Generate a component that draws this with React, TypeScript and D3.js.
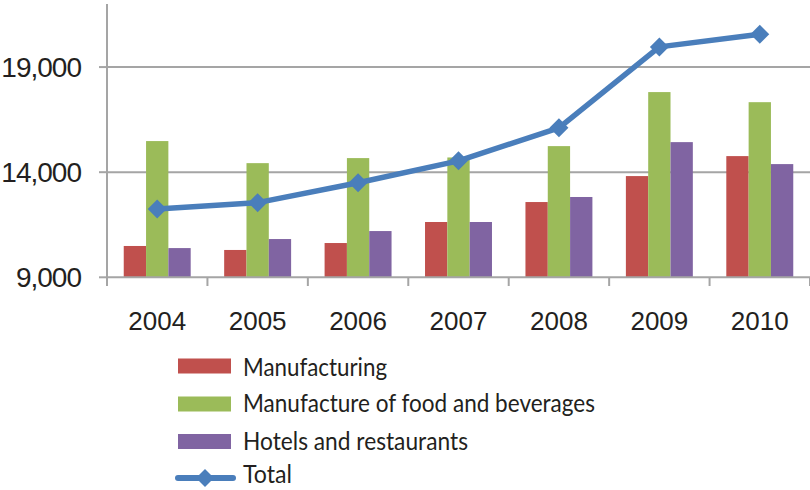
import React from "react";
import * as d3 from "d3";

const years = ["2004", "2005", "2006", "2007", "2008", "2009", "2010"];
const manufacturing = [10490, 10300, 10630, 11630, 12580, 13815, 14765];
const foodBeverages = [15480, 14430, 14670, 14700, 15240, 17810, 17330];
const hotelsRestaurants = [10390, 10820, 11200, 11630, 12820, 15430, 14385];
const total = [12250, 12550, 13500, 14540, 16110, 19960, 20565];
const yTicks = [9000, 14000, 19000];
const seriesNames = ["Manufacturing", "Manufacture of food and beverages", "Hotels and restaurants"];
const seriesColors = ["#C0504D", "#9BBB59", "#8064A2"];
const totalName = "Total";
const totalColor = "#4A7EBB";

const W = 810;
const H = 490;
const left = 107;
const right = 810;
const yTop = 4;
const yBottom = 277.3;

export default function App() {
  const x = d3.scaleBand<string>().domain(years).range([left, right]).paddingInner(0).paddingOuter(0);
  const bw = x.bandwidth();
  const groupPad = (bw * (1.5 / 4.5)) / 2;
  const inner = d3
    .scaleBand<number>()
    .domain([0, 1, 2])
    .range([groupPad, bw - groupPad])
    .padding(0);
  const y = d3.scaleLinear().domain([9000, 22000]).range([yBottom, yTop]);
  const series = [manufacturing, foodBeverages, hotelsRestaurants];
  const line = d3
    .line<number>()
    .x((_, i) => (x(years[i]) as number) + bw / 2)
    .y((d) => y(d));
  const diamond = (cx: number, cy: number, r: number) =>
    `M${cx},${cy - r}L${cx + r},${cy}L${cx},${cy + r}L${cx - r},${cy}Z`;
  const axisColor = "#A5A5A5";
  const fmt = d3.format(",");
  const boundaries = d3.range(years.length + 1).map((i) => left + i * bw);

  const legendY = [366, 404, 441.5];
  const legendText = [376, 412, 450];
  const legendLen = [144, 352, 225];
  const legendFont = "Lato, Noto Sans, sans-serif";

  return (
    <div style={{ position: "fixed", left: 0, top: 0 }}>
      <svg width={W} height={H} style={{ display: "block", background: "#fff" }}>
        {/* gridlines */}
        {yTicks.slice(1).map((t) => (
          <line key={t} x1={left} x2={right} y1={y(t)} y2={y(t)} stroke={axisColor} strokeWidth={2} />
        ))}
        {/* bars */}
        {series.map((vals, si) =>
          vals.map((v, i) => (
            <rect
              key={`${si}-${i}`}
              x={(x(years[i]) as number) + (inner(si) as number)}
              y={y(v)}
              width={inner.bandwidth()}
              height={yBottom - y(v)}
              fill={seriesColors[si]}
            />
          ))
        )}
        {/* axes */}
        <line x1={left} x2={right} y1={yBottom} y2={yBottom} stroke={axisColor} strokeWidth={2} />
        <line x1={left} x2={left} y1={yTop} y2={286} stroke={axisColor} strokeWidth={2} />
        {yTicks.map((t) => (
          <line key={t} x1={99} x2={left} y1={y(t)} y2={y(t)} stroke={axisColor} strokeWidth={2} />
        ))}
        {boundaries.map((b, i) => (
          <line key={i} x1={b} x2={b} y1={yBottom} y2={286} stroke={axisColor} strokeWidth={2} />
        ))}
        {yTicks.map((t) => (
          <text
            key={t}
            x={81}
            y={y(t) + 10}
            textAnchor="end"
            fontFamily="Liberation Sans, Arial, sans-serif"
            fontSize={28}
            letterSpacing={-1}
            fill="#231F20"
          >
            {fmt(t)}
          </text>
        ))}
        {years.map((yr) => (
          <text
            key={yr}
            x={(x(yr) as number) + bw / 2}
            y={329.5}
            textAnchor="middle"
            fontFamily="Liberation Sans, Arial, sans-serif"
            fontSize={26}
            fill="#231F20"
          >
            {yr}
          </text>
        ))}
        {/* total line */}
        <path d={line(total) || ""} fill="none" stroke={totalColor} strokeWidth={5.5} strokeLinejoin="round" />
        {total.map((v, i) => (
          <path key={i} d={diamond((x(years[i]) as number) + bw / 2, y(v), 9.5)} fill={totalColor} />
        ))}
        {/* legend */}
        {seriesNames.map((n, i) => (
          <g key={n}>
            <rect x={178} y={legendY[i] - 7.5} width={53} height={15} fill={seriesColors[i]} />
            <text
              x={243}
              y={legendText[i]}
              textLength={legendLen[i]}
              lengthAdjust="spacingAndGlyphs"
              fontFamily={legendFont}
              fontSize={25}
              fill="#231F20"
            >
              {n}
            </text>
          </g>
        ))}
        <line x1={178} x2={233} y1={478} y2={478} stroke={totalColor} strokeWidth={6} strokeLinecap="round" />
        <path d={diamond(205, 478, 9)} fill={totalColor} />
        <text
          x={243}
          y={483}
          textLength={49}
          lengthAdjust="spacingAndGlyphs"
          fontFamily={legendFont}
          fontSize={25}
          fill="#231F20"
        >
          {totalName}
        </text>
      </svg>
    </div>
  );
}
